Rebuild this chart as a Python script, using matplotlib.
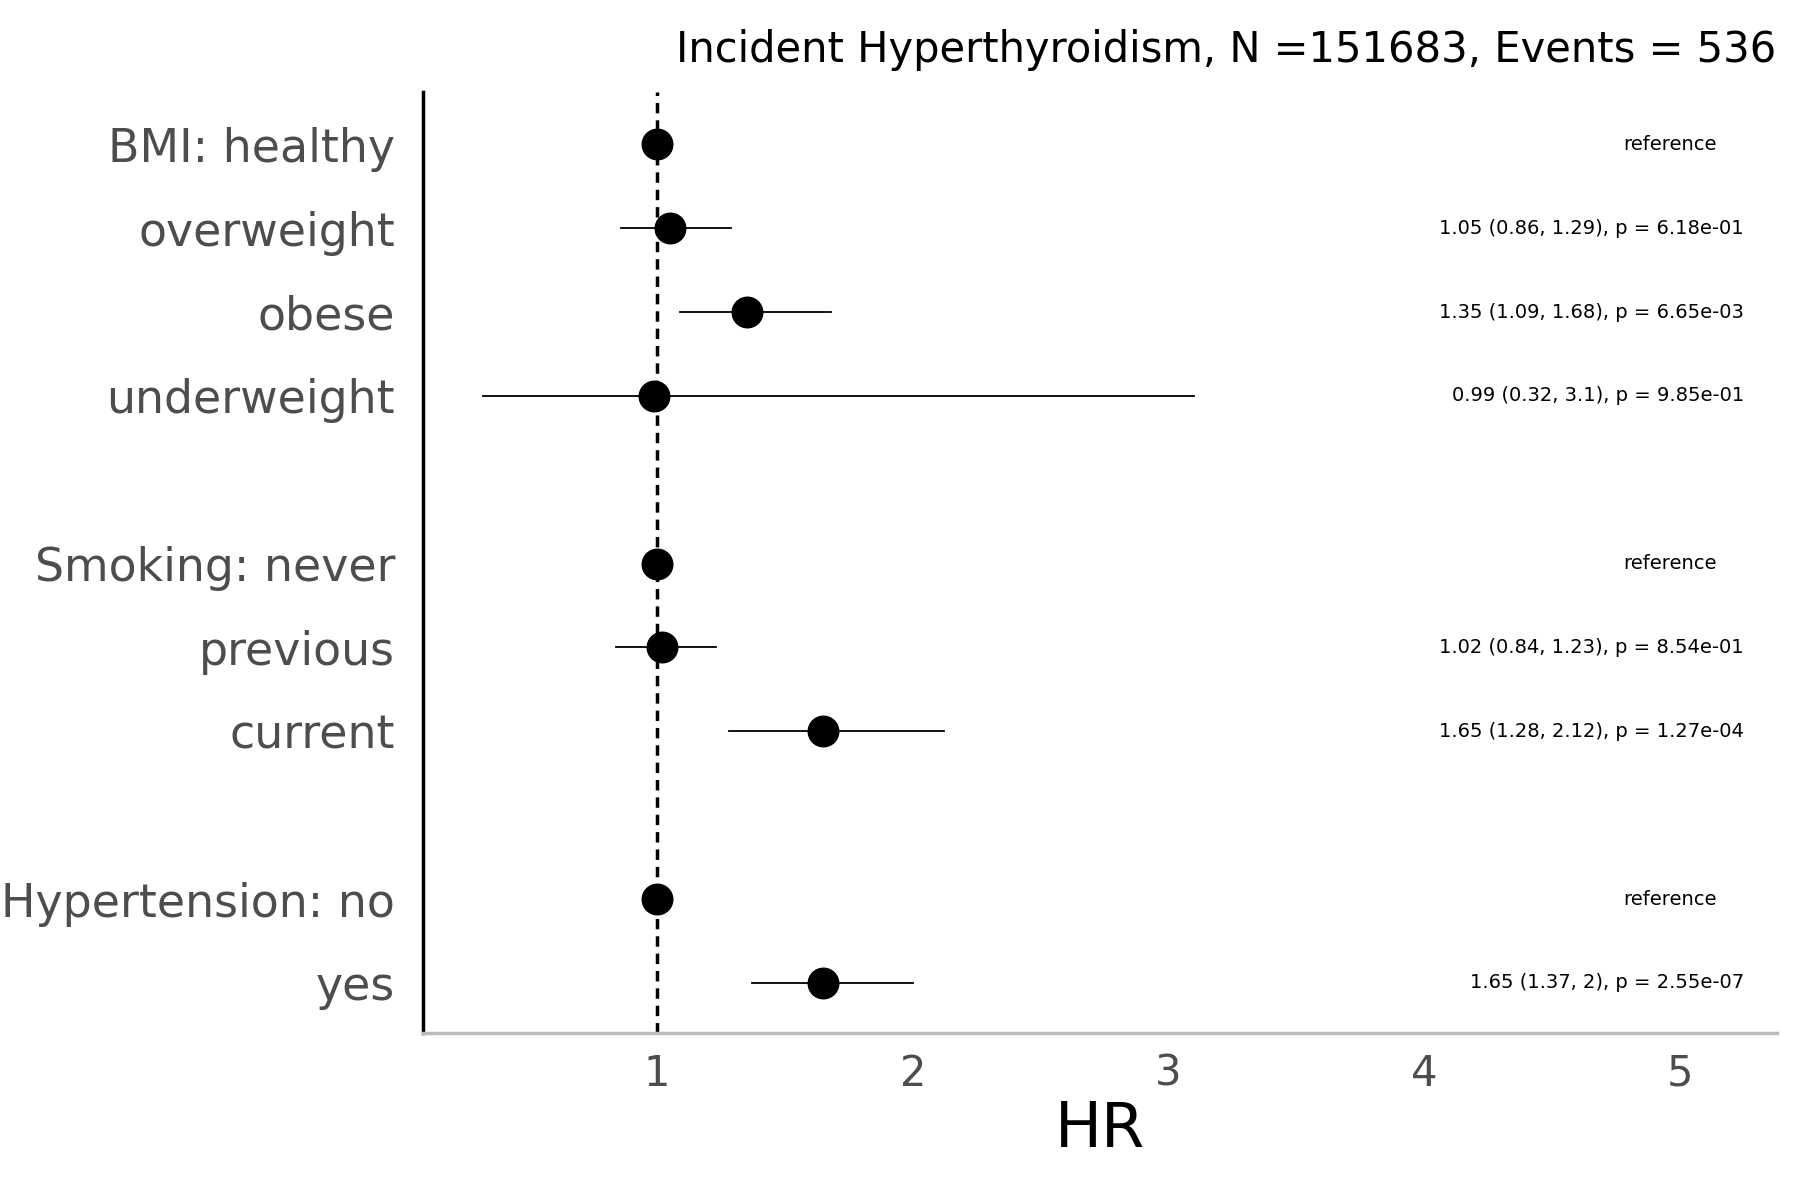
import numpy as np
import matplotlib.pyplot as plt

# Data
labels = ["BMI: healthy", "overweight", "obese", "underweight",
          "Smoking: never", "previous", "current",
          "Hypertension: no", "yes"]
hr = [1.0, 1.05, 1.35, 0.99, 1.0, 1.02, 1.65, 1.0, 1.65]
lo = [1.0, 0.86, 1.09, 0.32, 1.0, 0.84, 1.28, 1.0, 1.37]
hi = [1.0, 1.29, 1.68, 3.1, 1.0, 1.23, 2.12, 1.0, 2.0]
notes = ["reference", "1.05 (0.86, 1.29), p = 6.18e-01",
         "1.35 (1.09, 1.68), p = 6.65e-03", "0.99 (0.32, 3.1), p = 9.85e-01",
         "reference", "1.02 (0.84, 1.23), p = 8.54e-01",
         "1.65 (1.28, 2.12), p = 1.27e-04",
         "reference", "1.65 (1.37, 2), p = 2.55e-07"]
ypos = [0, 1, 2, 3, 5, 6, 7, 9, 10]

fig = plt.figure(figsize=(18, 12), dpi=100)
ax = fig.add_axes([0.235, 0.139, 0.752, 0.784])

ax.axvline(1, color="black", ls=(0, (3, 2)), lw=2.5, zorder=1)
for y, h, l, u, n in zip(ypos, hr, lo, hi, notes):
    ax.plot([l, u], [y, y], color="black", lw=1.3, zorder=2)
    ax.plot(h, y, "o", color="black", ms=22, zorder=3)
    if n == "reference":
        ax.text(4.96, y, n, ha="center", va="center", fontsize=14)
    else:
        ax.text(5.25, y, n, ha="right", va="center", fontsize=14)

ax.set_xlim(0.085, 5.377)
ax.set_ylim(10.6, -0.62)
ax.set_yticks(ypos)
ax.set_yticklabels(labels, fontsize=33, color="#4d4d4d")
ax.set_xticks([1, 2, 3, 4, 5])
ax.tick_params(axis="x", labelsize=30, labelcolor="#4d4d4d", length=0, pad=14)
ax.tick_params(axis="y", length=0, pad=20)
ax.set_xlabel("HR", fontsize=45, labelpad=4)
ax.set_title("Incident Hyperthyroidism, N =151683, Events = 536",
             fontsize=30, loc="right", pad=22)

for s in ["top", "right"]:
    ax.spines[s].set_visible(False)
ax.spines["left"].set_linewidth(2.5)
ax.spines["bottom"].set_color("#bbbbbb")
ax.spines["bottom"].set_linewidth(2.5)

fig.savefig("out.png", dpi=100)
